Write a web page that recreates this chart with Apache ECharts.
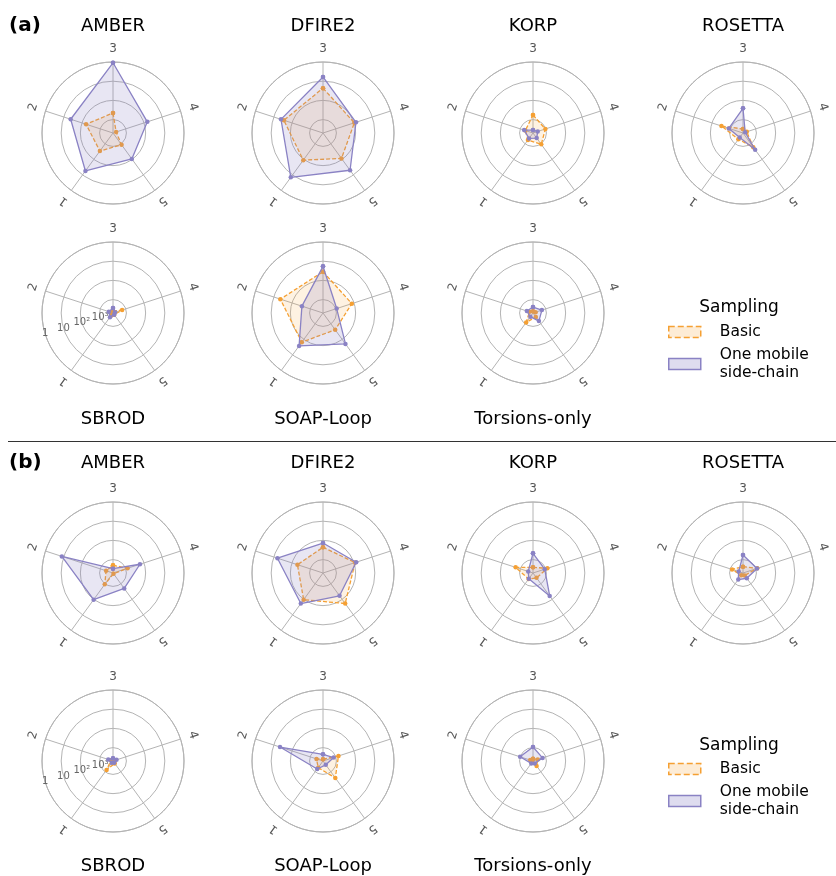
<!DOCTYPE html>
<html><head><meta charset="utf-8">
<script src="https://cdn.jsdelivr.net/npm/echarts@6/dist/echarts.min.js"></script>
<style>html,body{margin:0;padding:0;background:#fff}#c{width:836px;height:876px}</style>
</head><body><div id="c"></div>
<script>
// spokes, clockwise from the top
const axisLabels = ['3', '4', '5', '1', '2'];
const methods = ['AMBER', 'DFIRE2', 'KORP', 'ROSETTA', 'SBROD', 'SOAP-Loop', 'Torsions-only'];
const radiusTickLabels = {1: '1', 10: '10', 100: '10²', 1000: '10³'};
const seriesNames = ['Basic', 'One mobile\nside-chain'];
const legendTitle = 'Sampling';
const panelLetters = ['(a)', '(b)'];

// values per method, in spoke order 3,4,5,1,2 (log radial axis, 1 at the rim)
const basicA = [
  [455, 3360, 870, 345, 167],
  [23, 96, 115, 89, 36],
  [575, 1050, 930, 1780, 1900],
  [3100, 3100, 615, 1950, 330],
  [3900, 1580, 3900, 3500, 3900],
  [35, 132, 415, 66, 23],
  [4000, 3600, 2800, 1240, 3200]
];
const mobileA = [
  [1.1, 66, 107, 18, 24],
  [6, 78, 20, 7, 25],
  [3500, 2750, 2350, 2240, 1630],
  [258, 3800, 420, 2570, 835],
  [2750, 3900, 3900, 2690, 2950],
  [18.5, 890, 51, 38, 350],
  [2450, 1630, 1500, 2900, 2300]
];
const basicB = [
  [1990, 795, 4500, 930, 2090],
  [229, 87, 54, 96, 199],
  [2530, 815, 2430, 2050, 560],
  [2350, 830, 3500, 3550, 1260],
  [4200, 3900, 3500, 1340, 3900],
  [4000, 710, 405, 1870, 2200],
  [3800, 2750, 2400, 4300, 3500]
];
const mobileB = [
  [2960, 167, 505, 96, 7.9],
  [137, 76, 171, 54, 16],
  [470, 1140, 166, 2130, 2740],
  [575, 850, 2300, 1900, 2900],
  [3600, 3200, 3900, 3900, 2750],
  [2240, 1300, 2830, 1520, 22],
  [930, 1500, 3500, 3500, 980]
];

const RMIN = 1, RMAX = 5000;
const FONT = 'DejaVu Sans';
const ORANGE = '#f5a033', ORANGE_FILL = 'rgba(245,160,51,0.2)';
const PURPLE = '#8a82c4', PURPLE_FILL = 'rgba(138,130,196,0.28)';
const GRID = '#b4b4b4';
const R = 71, LABEL_R = 84;

const colX = [113, 323, 533, 743];
const panels = [
  {rows: [133, 313], titleY: [26, 419], letterY: 26, basic: basicA, mobile: mobileA, samplingY: 308, legendTop: 323},
  {rows: [573, 761], titleY: [463, 866], letterY: 463, basic: basicB, mobile: mobileB, samplingY: 746, legendTop: 760}
];

const polar = [], angleAxis = [], radiusAxis = [], series = [], graphic = [], legend = [];
let pi = 0;
panels.forEach((p, k) => {
  graphic.push({type: 'text', x: 9, y: p.letterY, style: {text: panelLetters[k], font: 'bold 20px "' + FONT + '"', fill: '#000', verticalAlign: 'middle'}});
  methods.forEach((m, j) => {
    const row = j < 4 ? 0 : 1, col = j < 4 ? j : j - 4;
    const cx = colX[col], cy = p.rows[row];
    polar.push({center: [cx, cy], radius: R});
    angleAxis.push({
      polarIndex: pi, type: 'value', min: 0, max: 5, interval: 1, startAngle: 90, clockwise: true,
      axisLine: {show: true, lineStyle: {color: GRID, width: 1}},
      axisTick: {show: false},
      splitLine: {show: true, lineStyle: {color: GRID, width: 1}},
      axisLabel: {show: false}
    });
    radiusAxis.push({
      polarIndex: pi, type: 'log', logBase: 10, min: RMIN, max: RMAX, inverse: true,
      axisLine: {show: false}, axisTick: {show: false}, axisLabel: {show: false},
      splitLine: {show: true, lineStyle: {color: GRID, width: 1}}
    });
    // tangentially rotated spoke labels
    axisLabels.forEach((lab, i) => {
      const aDeg = 90 - 72 * i, a = aDeg * Math.PI / 180;
      graphic.push({type: 'text', x: cx + LABEL_R * Math.cos(a), y: cy - LABEL_R * Math.sin(a),
        rotation: (aDeg - 90) * Math.PI / 180,
        style: {text: lab, font: '12px "' + FONT + '"', fill: '#555', align: 'center', verticalAlign: 'middle'}});
    });
    graphic.push({type: 'text', x: cx, y: p.titleY[row], style: {text: m, font: '18px "' + FONT + '"', fill: '#000', align: 'center', verticalAlign: 'middle'}});
    const toData = arr => arr.map((v, i) => [v, i]).concat([[arr[0], 5]]);
    series.push({
      type: 'line', name: seriesNames[0], coordinateSystem: 'polar', polarIndex: pi,
      data: toData(p.basic[j]), symbol: 'circle', symbolSize: 4.5, clip: false,
      lineStyle: {color: ORANGE, width: 1.3, type: [4, 2]},
      itemStyle: {color: ORANGE},
      areaStyle: {color: ORANGE_FILL, origin: RMAX}, z: 3
    });
    series.push({
      type: 'line', name: seriesNames[1], coordinateSystem: 'polar', polarIndex: pi,
      data: toData(p.mobile[j]), symbol: 'circle', symbolSize: 4.5, clip: false,
      lineStyle: {color: PURPLE, width: 1.3},
      itemStyle: {color: PURPLE},
      areaStyle: {color: PURPLE_FILL, origin: RMAX}, z: 4
    });
    pi++;
    if (m === 'SBROD') {
      // radial tick labels along a ray
      polar.push({center: [cx, cy], radius: R});
      angleAxis.push({polarIndex: pi, type: 'value', min: 0, max: 5, startAngle: 197,
        axisLine: {show: false}, axisTick: {show: false}, splitLine: {show: false}, axisLabel: {show: false}});
      radiusAxis.push({polarIndex: pi, type: 'log', logBase: 10, min: RMIN, max: RMAX, inverse: true,
        axisLine: {show: false}, axisTick: {show: false}, splitLine: {show: false},
        axisLabel: {show: true, margin: 0, align: 'center', verticalAlign: 'middle', color: '#666', fontSize: 10, fontFamily: FONT,
          formatter: v => radiusTickLabels[Math.round(v)] || ''}});
      pi++;
    }
  });
  graphic.push({type: 'text', x: 739, y: p.samplingY, style: {text: legendTitle, font: '17px "' + FONT + '"', fill: '#000', align: 'center', verticalAlign: 'middle'}});
  legend.push({
    orient: 'vertical', left: 668, top: p.legendTop, itemWidth: 32, itemHeight: 11, itemGap: 5, padding: 0,
    selectedMode: false,
    textStyle: {fontSize: 15.5, fontFamily: FONT, color: '#000', lineHeight: 18, padding: [0, 0, 0, 14]},
    data: [
      {name: seriesNames[0], icon: 'rect', itemStyle: {color: ORANGE_FILL, borderColor: ORANGE, borderWidth: 1.5, borderType: 'dashed'}},
      {name: seriesNames[1], icon: 'rect', itemStyle: {color: PURPLE_FILL, borderColor: PURPLE, borderWidth: 1.5}}
    ]
  });
});
graphic.push({type: 'line', shape: {x1: 8, y1: 441.5, x2: 836, y2: 441.5}, style: {stroke: '#333', lineWidth: 1}});

const chart = echarts.init(document.getElementById('c'), null, {renderer: 'canvas'});
chart.setOption({animation: false, backgroundColor: '#fff', polar, angleAxis, radiusAxis, series, graphic, legend});
</script></body></html>
